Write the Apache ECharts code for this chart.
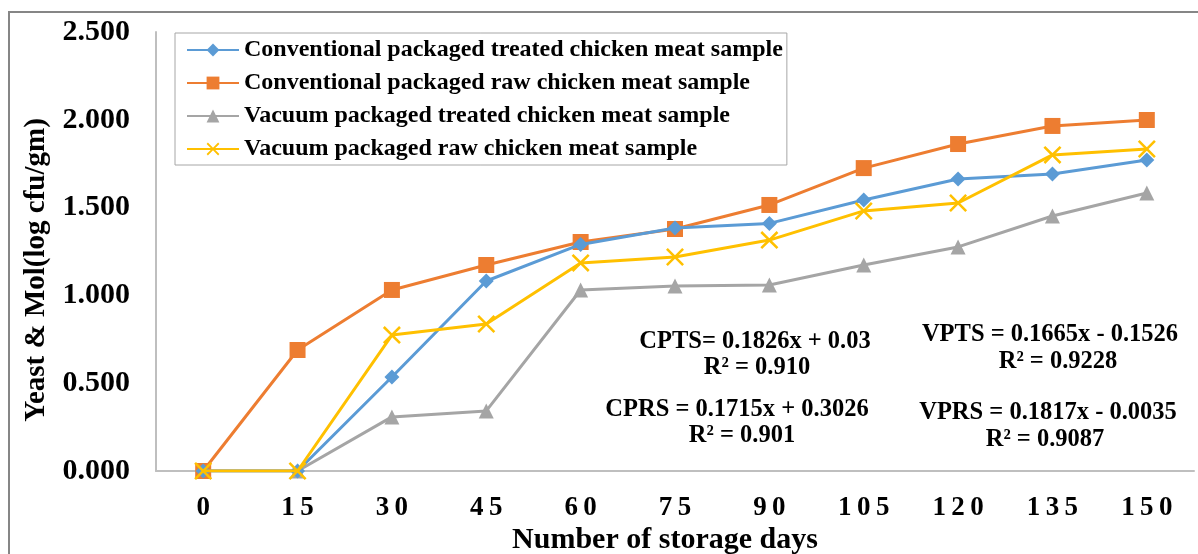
<!DOCTYPE html>
<html>
<head>
<meta charset="utf-8">
<script src="https://cdn.jsdelivr.net/npm/echarts@6/dist/echarts.min.js"></script>
<style>
html,body{margin:0;padding:0;background:#fff;}
#chart{width:1198px;height:554px;}
</style>
</head>
<body>
<div id="chart"></div>
<script>
const days = ['0','15','30','45','60','75','90','105','120','135','150'];
const cpts = [0, 0, 0.535, 1.082, 1.290, 1.384, 1.410, 1.543, 1.663, 1.691, 1.771];
const cprs = [0, 0.689, 1.031, 1.173, 1.304, 1.378, 1.515, 1.725, 1.862, 1.965, 1.999];
const vpts = [0, 0, 0.308, 0.342, 1.031, 1.054, 1.059, 1.173, 1.276, 1.452, 1.583];
const vprs = [0, 0, 0.774, 0.837, 1.185, 1.219, 1.315, 1.481, 1.526, 1.800, 1.834];
const seriesNames = [
  'Conventional packaged treated chicken meat sample',
  'Conventional packaged raw chicken meat sample',
  'Vacuum packaged treated chicken meat sample',
  'Vacuum packaged raw chicken meat sample'
];
const yTicks = [0, 0.5, 1.0, 1.5, 2.0, 2.5];
const annotations = [
  {text:'CPTS= 0.1826x + 0.03', x:755, y:342},
  {text:'R\u00B2 = 0.910', x:757, y:368},
  {text:'CPRS = 0.1715x + 0.3026', x:737, y:410},
  {text:'R\u00B2 = 0.901', x:742, y:436},
  {text:'VPTS = 0.1665x - 0.1526', x:1050, y:335},
  {text:'R\u00B2 = 0.9228', x:1058, y:362},
  {text:'VPRS = 0.1817x - 0.0035', x:1048, y:413},
  {text:'R\u00B2 = 0.9087', x:1045, y:440}
];

const FONT = '"Liberation Serif", "Times New Roman", serif';
const colors = ['#5B9BD5', '#ED7D31', '#A5A5A5', '#FFC000'];
const xSymbol = 'path://M0,1 L1,0 L5,4 L9,0 L10,1 L6,5 L10,9 L9,10 L5,6 L1,10 L0,9 L4,5 Z';
const symbols = ['diamond', 'rect', 'triangle', xSymbol];
const symbolSizes = [15, 16, 15, 18];
const dataSets = [cpts, cprs, vpts, vprs];

const chart = echarts.init(document.getElementById('chart'), null, {renderer:'canvas'});

const graphics = [
  {type:'rect', shape:{x:9, y:12, width:1300, height:700}, style:{fill:'none', stroke:'#868686', lineWidth:2}, silent:true, z:-1},
  {type:'text', x:37, y:270, rotation:Math.PI/2,
   style:{text:'Yeast & Mol(log cfu/gm)', font:'bold 29px ' + FONT, fill:'#000', align:'center', verticalAlign:'middle'}},
  {type:'text', x:665, y:540,
   style:{text:'Number of storage days', font:'bold 30px ' + FONT, fill:'#000', align:'center', verticalAlign:'middle'}}
];
annotations.forEach(a => graphics.push({
  type:'text', x:a.x, y:a.y,
  style:{text:a.text, font:'bold 24.5px ' + FONT, fill:'#000', align:'center', verticalAlign:'middle'}
}));

chart.setOption({
  animation:false,
  color: colors,
  grid:{left:156, right:4, top:32, bottom:83, containLabel:false},
  legend:{
    orient:'vertical', left:175, top:33,
    data: seriesNames,
    backgroundColor:'#fff',
    borderColor:'#A6A6A6', borderWidth:1,
    padding:[5, 4, 4, 11],
    itemWidth:52, itemHeight:16, itemGap:9,
    textStyle:{fontFamily:FONT, fontWeight:'bold', fontSize:24, color:'#000', lineHeight:24}
  },
  xAxis:{
    type:'category', data: days, boundaryGap:true,
    axisLine:{lineStyle:{color:'#BFBFBF', width:2}},
    axisTick:{show:false},
    axisLabel:{fontFamily:FONT, fontWeight:'bold', fontSize:27, color:'#000', margin:24,
      formatter: v => v.split('').join('\u2009')}
  },
  yAxis:{
    type:'value', min:0, max:2.5, interval:0.5,
    axisLine:{show:true, lineStyle:{color:'#BFBFBF', width:2}},
    axisTick:{show:false},
    splitLine:{show:false},
    axisLabel:{fontFamily:FONT, fontWeight:'bold', fontSize:30, color:'#000', margin:26,
      formatter: v => v.toFixed(3)}
  },
  graphic: graphics,
  series: dataSets.map((d, i) => ({
    name: seriesNames[i], type:'line', data: d,
    symbol: symbols[i], symbolSize: symbolSizes[i],
    showAllSymbol:true,
    lineStyle:{width:3, color:colors[i]},
    itemStyle:{color:colors[i]},
    z: [4, 3, 2, 5][i]
  }))
});
</script>
</body>
</html>
